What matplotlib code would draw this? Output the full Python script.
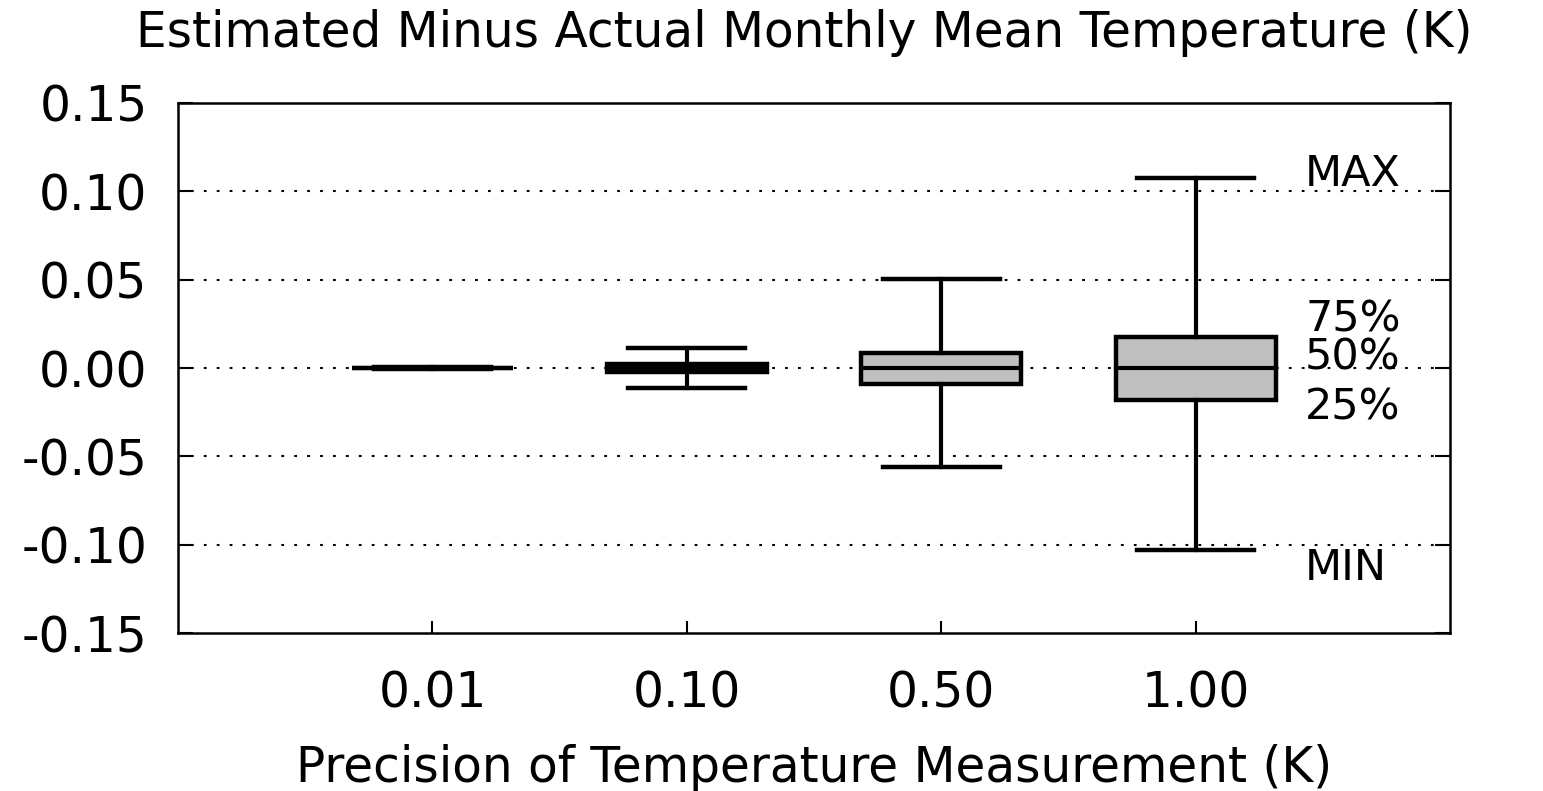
import matplotlib
matplotlib.use("Agg")
import matplotlib.pyplot as plt

plt.rcParams['font.family'] = ['DejaVu Sans']
plt.rcParams['lines.scale_dashes'] = False

# Precision categories and box statistics (K)
categories = ["0.01", "0.10", "0.50", "1.00"]
p_min = [-0.0006, -0.0113, -0.0560, -0.1030]
p_q1 = [-0.0002, -0.0025, -0.0090, -0.0180]
p_med = [0.0, 0.0, 0.0, 0.0]
p_q3 = [0.0002, 0.0025, 0.0085, 0.0175]
p_max = [0.0006, 0.0113, 0.0505, 0.1075]

y_ticks = [-0.15, -0.10, -0.05, 0.00, 0.05, 0.10, 0.15]
y_ticklabels = ["-0.15", "-0.10", "-0.05", "0.00", "0.05", "0.10", "0.15"]

# Key labels on the right-hand side (text, y position)
side_labels = ["MAX", "75%", "50%", "25%", "MIN"]
side_label_y = [0.110, 0.0275, 0.0060, -0.0225, -0.113]

FS = 35
FS_SIDE = 31

fig = plt.figure(figsize=(15.43, 7.91), dpi=100)
ax = fig.add_axes([0.1154, 0.1997, 0.8244, 0.6701])

stats = []
for lab, lo, q1, med, q3, hi in zip(categories, p_min, p_q1, p_med, p_q3, p_max):
    stats.append(dict(label=lab, whislo=lo, q1=q1, med=med, q3=q3, whishi=hi))

positions = list(range(1, len(categories) + 1))
ax.bxp(stats, positions=positions, widths=0.63, capwidths=0.46,
       showfliers=False, patch_artist=True,
       boxprops=dict(facecolor="#c0c0c0", edgecolor="black", linewidth=3.2),
       medianprops=dict(color="black", linewidth=3.0),
       whiskerprops=dict(color="black", linewidth=3.0),
       capprops=dict(color="black", linewidth=3.2),
       zorder=3)

ax.set_xlim(0, 5)
ax.set_ylim(-0.15, 0.15)
ax.set_xticks(positions)
ax.set_xticklabels(categories, fontsize=FS)
ax.set_yticks(y_ticks)
ax.set_yticklabels(y_ticklabels, fontsize=FS)

for y in [-0.10, -0.05, 0.0, 0.05, 0.10]:
    ax.axhline(y, color="black", linewidth=1.5, linestyle=(0, (2.0, 7.3)), zorder=1)

ax.tick_params(axis="y", direction="in", length=11, width=1.5, left=True, right=True, pad=22)
ax.tick_params(axis="x", direction="in", length=9, width=1.5, bottom=True, top=False, pad=26)

for s in ax.spines.values():
    s.set_linewidth(1.8)
    s.set_zorder(4)

for txt, y in zip(side_labels, side_label_y):
    ax.text(4.43, y, txt, fontsize=FS_SIDE, ha="left", va="center", zorder=5)

fig.text(0.521, 0.958, "Estimated Minus Actual Monthly Mean Temperature (K)",
         fontsize=FS, ha="center", va="center")
fig.text(0.5276, 0.029, "Precision of Temperature Measurement (K)",
         fontsize=FS, ha="center", va="center")

fig.savefig("out.png", dpi=100, facecolor="white")
